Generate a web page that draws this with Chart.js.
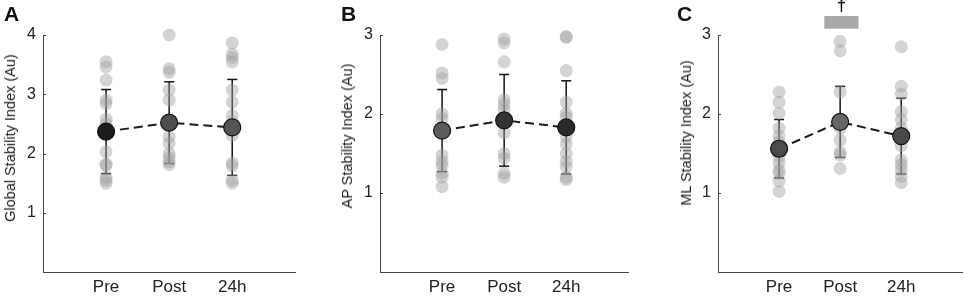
<!DOCTYPE html>
<html lang="en">
<head>
<meta charset="UTF-8">
<title>Stability Index</title>
<script src="https://cdn.jsdelivr.net/npm/chart.js"></script>
<style>
  body { margin: 0; background: #fff; font-family: "Liberation Sans", Arial, sans-serif; }
  #wrap { position: relative; width: 975px; height: 297px; overflow: hidden; }
  .panel { position: absolute; top: 0; }
  .letter { position: absolute; font-weight: bold; font-size: 21px; color: #111; }
  .ytitle { position: absolute; font-size: 14.5px; color: #222; white-space: nowrap;
            transform: translate(-50%, -50%) rotate(-90deg); }
</style>
</head>
<body>
<div id="wrap">
  <canvas id="panelA" class="panel" style="left:0px" width="305" height="297"></canvas>
  <canvas id="panelB" class="panel" style="left:337px" width="301" height="297"></canvas>
  <canvas id="panelC" class="panel" style="left:675px" width="297" height="297"></canvas>

  <div class="letter" style="left:4px; top:2px">A</div>
  <div class="letter" style="left:341px; top:2px">B</div>
  <div class="letter" style="left:677px; top:2px">C</div>

  <div class="ytitle" style="left:10px; top:138px">Global Stability Index (Au)</div>
  <div class="ytitle" style="left:347px; top:136px">AP Stability Index (Au)</div>
  <div class="ytitle" style="left:686px; top:133px">ML Stability Index (Au)</div>
</div>

<script>
// categories (x positions 1, 2, 3)
const categories = ['Pre', 'Post', '24h'];

// A - Global stability index, individual values
const globalPre  = [3.55, 3.46, 3.24, 2.90, 2.84, 2.58, 2.50, 2.42, 2.03, 1.82, 1.80, 1.60, 1.55, 1.50];
const globalPost = [4.00, 3.43, 3.37, 3.07, 2.90, 2.55, 2.28, 2.17, 2.00, 1.93, 1.86, 1.81];
const global24h  = [3.87, 3.68, 3.62, 3.55, 3.07, 2.87, 2.64, 2.53, 2.40, 2.31, 1.84, 1.79, 1.55, 1.50];
const globalMean = [2.37, 2.52, 2.44];
const globalSD   = [0.71, 0.69, 0.81];

// B - AP stability index
const apPre  = [2.88, 2.52, 2.45, 2.00, 1.94, 1.80, 1.48, 1.40, 1.35, 1.25, 1.20, 1.08];
const apPost = [2.95, 2.90, 2.66, 2.18, 2.12, 2.05, 1.76, 1.50, 1.44, 1.25, 1.20];
const ap24h  = [2.98, 2.97, 2.55, 2.15, 2.01, 1.96, 1.71, 1.62, 1.50, 1.40, 1.33, 1.20, 1.17];
const apMean = [1.79, 1.92, 1.83];
const apSD   = [0.52, 0.58, 0.59];

// C - ML stability index
const mlPre  = [2.28, 2.15, 2.01, 1.82, 1.72, 1.65, 1.46, 1.38, 1.29, 1.25, 1.15, 1.02];
const mlPost = [2.92, 2.80, 2.28, 1.82, 1.67, 1.52, 1.48, 1.31];
const ml24h  = [2.85, 2.35, 2.25, 2.03, 1.93, 1.82, 1.60, 1.42, 1.36, 1.29, 1.21, 1.13];
const mlMean = [1.56, 1.90, 1.72];
const mlSD   = [0.37, 0.45, 0.48];

// significance marker in C (x from, x to, y from, y to) and its label
const mlSigBar = [1.74, 2.30, 3.08, 3.24];
const mlSigLabel = '\u2020';

// small inward tick marks + optional significance bar
const extrasPlugin = {
  id: 'extras',
  afterDraw(chart) {
    const ctx = chart.ctx;
    const x = chart.scales.x, y = chart.scales.y;
    ctx.save();
    ctx.strokeStyle = '#444';
    ctx.lineWidth = 1;
    y.ticks.forEach(t => {
      if (t.value === 0) return;
      const py = Math.round(y.getPixelForValue(t.value)) + 0.5;
      ctx.beginPath();
      ctx.moveTo(x.left, py);
      ctx.lineTo(x.left + 3, py);
      ctx.stroke();
    });
    const sig = chart.options.plugins.extras.sig;
    if (sig) {
      const x0 = x.getPixelForValue(sig.bar[0]), x1 = x.getPixelForValue(sig.bar[1]);
      const y0 = y.getPixelForValue(sig.bar[2]), y1 = y.getPixelForValue(sig.bar[3]);
      ctx.fillStyle = '#a9a9a9';
      ctx.fillRect(x0, y1, x1 - x0, y0 - y1);
      ctx.fillStyle = '#111';
      ctx.font = 'bold 16px "Liberation Sans", Arial, sans-serif';
      ctx.textAlign = 'center';
      ctx.textBaseline = 'bottom';
      ctx.fillText(sig.label, x.getPixelForValue(2.02), y1 - 1);
    }
    ctx.restore();
  }
};

function makePanel(id, groups, means, sds, yMax, meanColors, sig) {
  const datasets = [];

  // individual points
  const pts = [];
  groups.forEach((vals, i) => vals.forEach(v => pts.push({ x: i + 1, y: v })));
  datasets.push({
    type: 'scatter',
    data: pts,
    pointRadius: 6.5,
    pointBackgroundColor: 'rgba(160,160,160,0.45)',
    pointBorderWidth: 0,
    clip: false,
    order: 2
  });

  // error bars (SD) with caps
  means.forEach((m, i) => {
    datasets.push({
      type: 'scatter',
      showLine: true,
      data: [{ x: i + 1, y: m - sds[i] }, { x: i + 1, y: m + sds[i] }],
      borderColor: '#111',
      borderWidth: 1.5,
      pointStyle: 'line',
      pointRadius: 5,
      pointBorderWidth: 1.5,
      pointBorderColor: '#111',
      clip: false,
      order: 3
    });
  });

  // means joined by dashed line
  datasets.push({
    type: 'scatter',
    showLine: true,
    data: means.map((m, i) => ({ x: i + 1, y: m })),
    borderColor: '#1a1a1a',
    borderWidth: 2,
    borderDash: [9, 5],
    pointRadius: 8.5,
    pointBackgroundColor: meanColors,
    pointBorderColor: '#111',
    pointBorderWidth: 1.2,
    clip: false,
    order: 0
  });

  new Chart(document.getElementById(id), {
    type: 'scatter',
    data: { datasets },
    plugins: [extrasPlugin],
    options: {
      responsive: false,
      animation: false,
      layout: { padding: { top: 35, right: 2, left: 0, bottom: 0 } },
      plugins: {
        legend: { display: false },
        tooltip: { enabled: false },
        extras: { sig: sig }
      },
      scales: {
        x: {
          type: 'linear',
          min: 0, max: 4,
          afterFit: s => { s.height = 25; },
          grid: { display: false, drawTicks: false },
          border: { display: true, color: '#444', width: 1 },
          ticks: {
            stepSize: 1,
            autoSkip: false,
            maxRotation: 0,
            padding: 5,
            color: '#222',
            font: { size: 17, family: '"Liberation Sans", Arial, sans-serif' },
            callback: v => categories[v - 1] || ''
          }
        },
        y: {
          type: 'linear',
          min: 0, max: yMax,
          afterFit: s => { s.width = 43; },
          grid: { display: false, drawTicks: false },
          border: { display: true, color: '#444', width: 1 },
          ticks: {
            stepSize: 1,
            padding: 7,
            color: '#222',
            font: { size: 16, family: '"Liberation Sans", Arial, sans-serif' },
            callback: v => (v === 0 ? '' : v)
          }
        }
      }
    }
  });
}

makePanel('panelA', [globalPre, globalPost, global24h], globalMean, globalSD, 4,
  ['#1c1c1c', '#4e4e4e', '#555555'], null);
makePanel('panelB', [apPre, apPost, ap24h], apMean, apSD, 3,
  ['#5a5a5a', '#333333', '#2a2a2a'], null);
makePanel('panelC', [mlPre, mlPost, ml24h], mlMean, mlSD, 3,
  ['#4a4a4a', '#666666', '#4a4a4a'], { bar: mlSigBar, label: mlSigLabel });
</script>
</body>
</html>
